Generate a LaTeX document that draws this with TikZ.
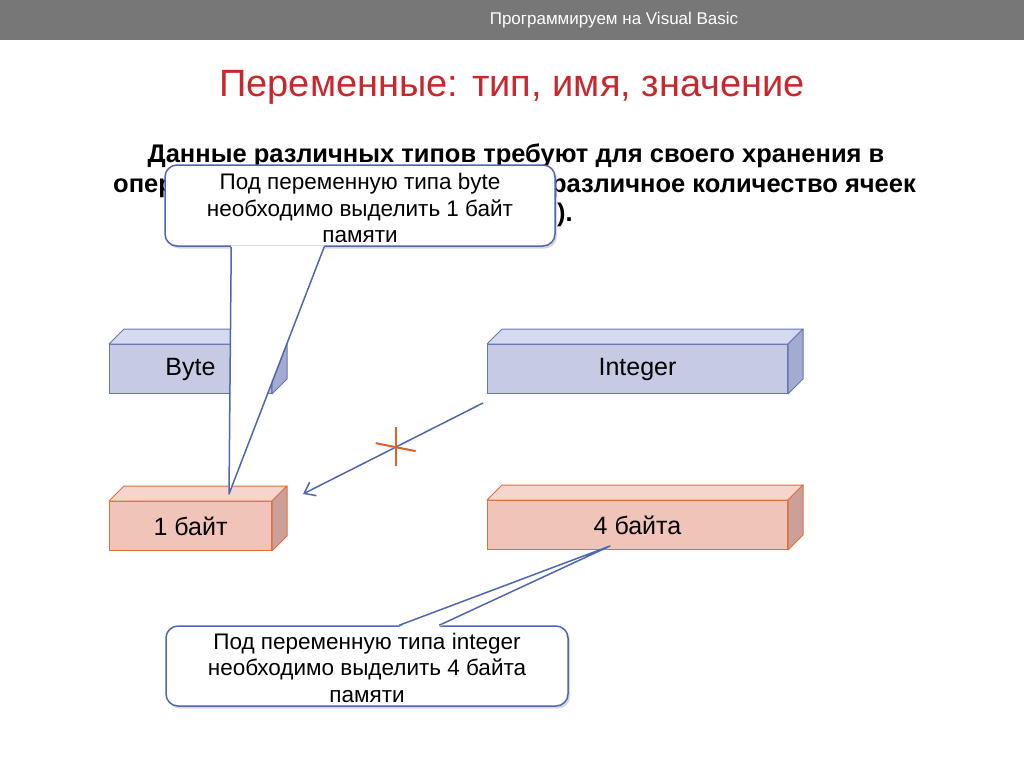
\documentclass[tikz,border=0pt]{standalone}
\usepackage{fontspec}
\setmainfont{Liberation Sans}
\usetikzlibrary{calc,arrows.meta,shadows}

\definecolor{barg}{HTML}{777777}
\definecolor{titler}{HTML}{C8282D}
\definecolor{bfront}{HTML}{C6CBE3}
\definecolor{btop}{HTML}{D6DAEE}
\definecolor{bside}{HTML}{A3ABD0}
\definecolor{bline}{HTML}{6677B5}
\definecolor{rfront}{HTML}{F1C4BA}
\definecolor{rtop}{HTML}{F6D5CE}
\definecolor{rside}{HTML}{CBA098}
\definecolor{rline}{HTML}{E0703F}
\definecolor{cline}{HTML}{4F67AC}
\definecolor{crossc}{HTML}{E0602A}

\newcommand\threeDbox[5]{%
  \node[frontface, minimum width=#3, fill=#5front, draw=#5line] (#1) at #2 {#4};
  \filldraw[fill=#5top, draw=#5line, line width=1pt, line join=round]
    (#1.north west) -- ($(#1.north west)+(15,-15)$) -- ($(#1.north east)+(15,-15)$) -- (#1.north east) -- cycle;
  \filldraw[fill=#5side, draw=#5line, line width=1pt, line join=round]
    (#1.north east) -- ($(#1.north east)+(15,-15)$) -- ($(#1.south east)+(15,-15)$) -- (#1.south east) -- cycle;
}

\begin{document}
\begin{tikzpicture}[x=1pt,y=-1pt,
  frontface/.style={line width=1pt, minimum height=49pt, inner sep=0pt, anchor=north west,
    font=\fontsize{25}{28}\selectfont},
  calloutframe/.style={draw=cline, line width=1.5pt, fill=white, rounded corners=12pt,
    inner sep=0pt, drop shadow={shadow xshift=2pt, shadow yshift=-2.5pt, opacity=0.3}},
  callouttext/.style={align=center, inner sep=0pt, font=\fontsize{22.5}{26.5}\selectfont},
  bodytext/.style={inner sep=0pt, font=\bfseries\fontsize{25.5}{30}\selectfont},
  ptr/.style={draw=cline, line width=1.5pt, line join=round},
  arr/.style={cline, line width=1.5pt, -{Straight Barb[length=10pt,width=15pt]}},
  crossline/.style={crossc, line width=2pt}
]
\useasboundingbox (0,0) rectangle (1024,768);
\fill[white] (0,0) rectangle (1024,768);

% top bar
\fill[barg] (0,0) rectangle (1024,40);
\node[text=white, font=\fontsize{17}{19}\selectfont] (bar) at (614,20) {Программируем на Visual Basic};

% title
\node[text=titler, anchor=base, inner sep=0pt, font=\fontsize{38}{42}\selectfont] (title) at (512,96) {Переменные: тип, имя, значение};

% body text (partly hidden by the first callout)
\node[bodytext, anchor=base] (body1) at (516,162) {Данные различных типов требуют для своего хранения в};
\node[bodytext, anchor=base west] (body2a) at (113,192) {опер};
\node[bodytext, anchor=base east] (body2b) at (916,192) {различное количество ячеек};
\node[bodytext, anchor=base east] (body3) at (573,221) {).};

% boxes
\threeDbox{byte}{(109,344)}{162pt}{Byte}{b}
\threeDbox{int}{(487,344)}{300pt}{Integer}{b}
\threeDbox{b1}{(109,501)}{162pt}{1 байт}{r}
\threeDbox{b4}{(487,500)}{300pt}{4 байта}{r}

% arrow with cross
\coordinate (as) at ($(int.south west)+(-4,9)$);
\coordinate (ae) at ($(b1.north east)+(31,-7)$);
\draw[arr] (as) -- (ae) coordinate[pos=0.485] (xc);
\draw[crossline] ($(xc)+(0,-20)$) -- ($(xc)+(0,19)$);
\draw[crossline] ($(xc)+(-20,-4)$) -- ($(xc)+(20,4)$);

% callout 1
\node[calloutframe, minimum width=390pt, minimum height=81pt] (c1) at (360,205.5) {};
\node[callouttext] (c1t) at ($(c1.center)+(0,2.5)$)
  {Под переменную типа byte\\необходимо выделить 1 байт\\памяти};
\coordinate (c1a) at ($(c1.south west)+(67,0)$);
\coordinate (c1b) at ($(c1.south west)+(160,0)$);
\coordinate (t1) at ($(b1.north west)+(120,-7)$);
\fill[white] ($(c1a)+(0,-1.5)$) -- (t1) -- ($(c1b)+(0,-1.5)$) -- cycle;
\draw[ptr] (c1a) -- (t1) -- (c1b);

% callout 2
\node[calloutframe, minimum width=402pt, minimum height=80pt] (c2) at (367,666) {};
\node[callouttext] (c2t) at ($(c2.center)+(0,1.5)$)
  {Под переменную типа integer\\необходимо выделить 4 байта\\памяти};
\coordinate (c2a) at ($(c2.north west)+(234,0)$);
\coordinate (c2b) at ($(c2.north west)+(274,0)$);
\coordinate (t2) at ($(b4.south west)+(123,-4)$);
\fill[white] ($(c2a)+(0,1.5)$) -- (t2) -- ($(c2b)+(0,1.5)$) -- cycle;
\draw[ptr] (c2a) -- (t2) -- (c2b);
\end{tikzpicture}
\end{document}
